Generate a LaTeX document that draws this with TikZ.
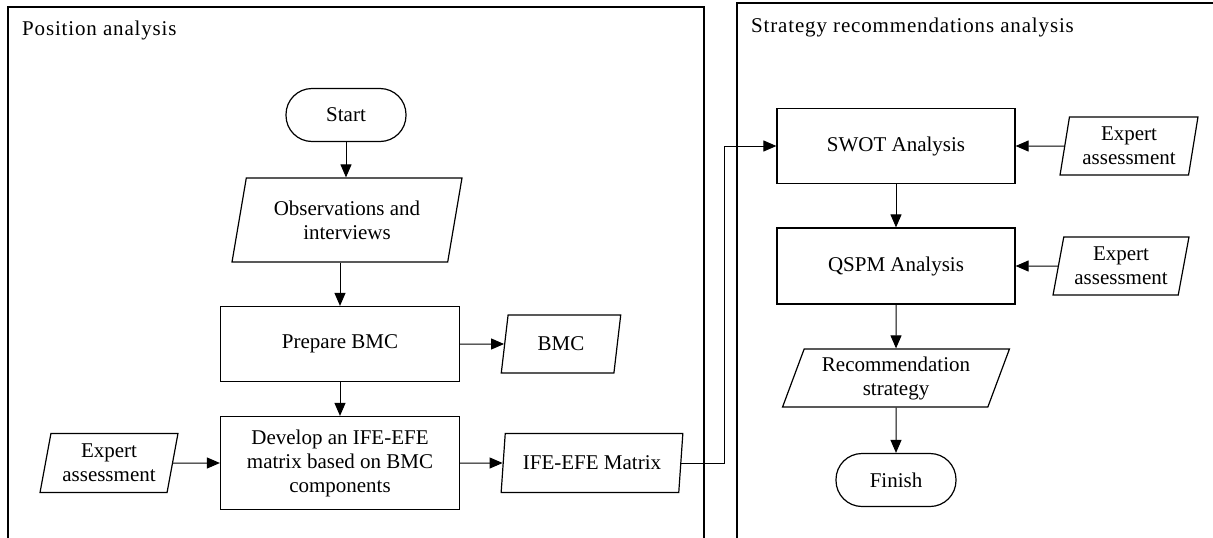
\documentclass[tikz,border=0pt]{standalone}
\usepackage{fontspec}
\setmainfont{Liberation Serif}
\usetikzlibrary{shapes.geometric,arrows.meta}
\begin{document}
\begin{tikzpicture}[x=1pt,y=-1pt,
  every node/.style={font=\fontsize{21}{24}\selectfont, align=center, inner sep=0pt},
  panel/.style={line width=1.2pt},
  box/.style={draw, line width=1.2pt, rectangle},
  term/.style={draw, line width=1.2pt, rectangle, rounded corners=26pt, minimum width=120pt, minimum height=53pt},
  data/.style={draw, line width=1.2pt, trapezium, trapezium left angle=#1, trapezium right angle=180-#1, trapezium stretches=true},
  data/.default=77,
  arr/.style={line width=1pt, -{Triangle[length=13pt,width=11pt]}},
  title/.style={anchor=base west, font=\fontsize{21}{24}\selectfont\addfontfeature{LetterSpace=4}}
]
\useasboundingbox (0,0) rectangle (1213,538);
% panels
\draw[panel] (8,545) -- (8,7) -- (704,7) -- (704,545);
\draw[panel] (737,545) -- (737,3) -- (1220,3);
\node[title] (t1) at (22,35) {Position analysis};
\node[title] (t2) at (751,32) {Strategy recommendations analysis};
% left nodes
\node[term] (start) at (346,115) {Start};
\node[data=75, minimum width=230pt, minimum height=84pt] (obs) at (347,220) {Observations and\\interviews};
\node[box, minimum width=239pt, minimum height=75pt] (prep) at (340,344) {Prepare BMC};
\node[data=78, minimum width=120pt, minimum height=58pt] (bmc) at (561,344) {BMC};
\node[box, minimum width=239pt, minimum height=93pt] (dev) at (340,463) {Develop an IFE-EFE\\matrix based on BMC\\components};
\node[data, minimum width=138pt, minimum height=59pt] (exp1) at (109,463) {Expert\\assessment};
\node[data, minimum width=182pt, minimum height=59pt] (ife) at (592,463) {IFE-EFE Matrix};
% right nodes
\node[box, minimum width=238pt, minimum height=75pt] (swot) at (896,146) {SWOT Analysis};
\node[data=79, minimum width=138pt, minimum height=58pt] (exp2) at (1129,146) {Expert\\assessment};
\node[box, minimum width=238pt, minimum height=76pt] (qspm) at (896,266) {QSPM Analysis};
\node[data=77, minimum width=136pt, minimum height=58pt] (exp3) at (1121,266) {Expert\\assessment};
\node[data=68, minimum width=227pt, minimum height=58pt] (rec) at (896,378) {Recommendation\\strategy};
\node[term] (fin) at (896,480) {Finish};
\coordinate (bend) at (724,146);
% connectors
\draw[arr] (start.south) -- (start.south |- obs.north);
\draw[arr] (obs.south -| prep.north) -- (prep.north);
\draw[arr] (prep.east) -- (bmc.west);
\draw[arr] (prep.south) -- (dev.north);
\draw[arr] (exp1.east) -- (dev.west);
\draw[arr] (dev.east) -- (ife.west);
\draw[arr] (ife.east) -| (bend) -- (swot.west);
\draw[arr] (exp2.west) -- (swot.east);
\draw[arr] (swot.south) -- (qspm.north);
\draw[arr] (exp3.west) -- (qspm.east);
\draw[arr] (qspm.south) -- (rec.north);
\draw[arr] (rec.south) -- (fin.north);
\end{tikzpicture}
\end{document}
